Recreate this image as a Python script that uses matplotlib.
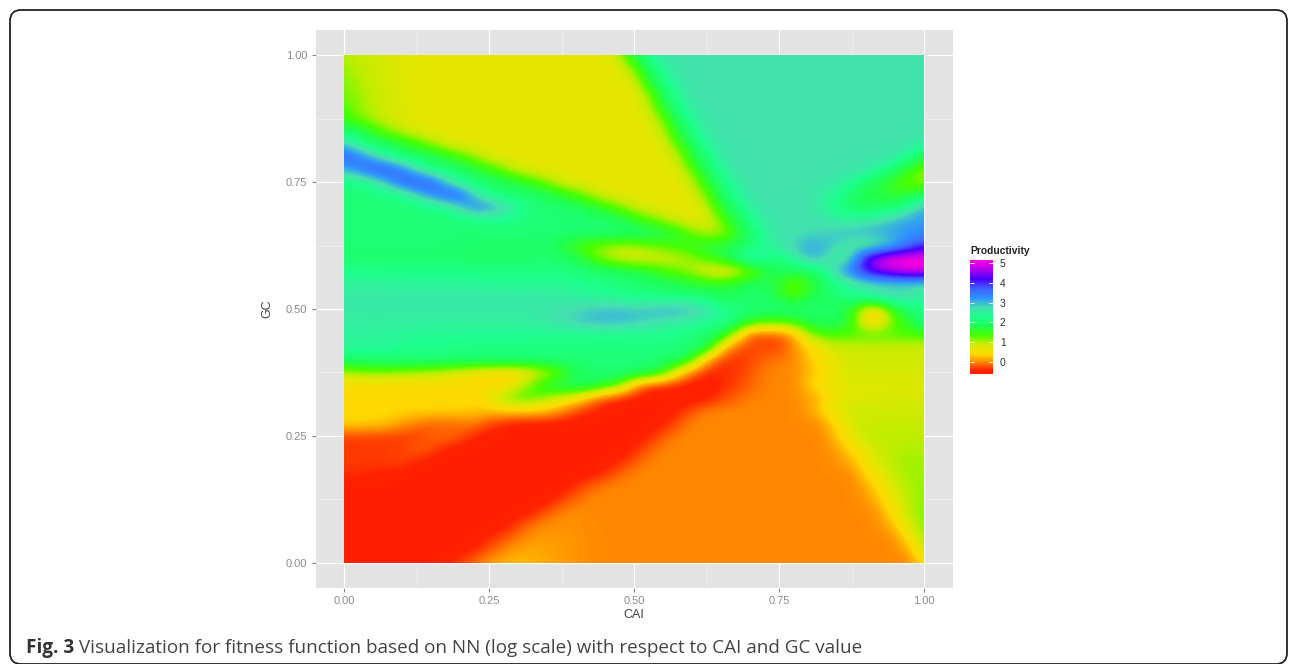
import matplotlib
matplotlib.use('Agg')
import matplotlib.pyplot as plt
import numpy as np
from matplotlib.colors import LinearSegmentedColormap, Normalize
from matplotlib.patches import FancyBboxPatch, Rectangle

W, H = 1295, 664

cai_ticks = [0.00, 0.25, 0.50, 0.75, 1.00]
gc_ticks = [0.00, 0.25, 0.50, 0.75, 1.00]
legend_ticks = [0, 1, 2, 3, 4, 5]
caption_bold = 'Fig. 3'
caption_rest = ' Visualization for fitness function based on NN (log scale) with respect to CAI and GC value'

# rows run from GC = 1.00 down to GC = 0.00, columns CAI 0.00 to 1.00, both in 0.025 steps
productivity = [
    [1.0, .92, .85, .78, .74, .72] + [.7] * 13 + [1.0, 1.8, 2.3] + [2.7] * 19,
    [1.05, .95, .87, .8, .75, .72] + [.7] * 13 + [.7, 1.2, 1.9, 2.4] + [2.7] * 18,
    [1.15, 1.0, .9, .8, .75, .72] + [.7] * 14 + [.8, 1.7, 2.2, 2.6] + [2.7] * 17,
    [1.2, 1.05, .92, .82, .76, .72] + [.7] * 14 + [.7, 1.1, 1.9, 2.4] + [2.7] * 17,
    [1.3, 1.1, .95, .82, .76, .72] + [.7] * 15 + [.9, 1.7, 2.2, 2.6] + [2.7] * 16,
    [1.5, 1.15, 1.0, .85, .78, .72] + [.7] * 15 + [.75, 1.2, 1.9, 2.4] + [2.7] * 16,
    [2.0, 1.9, 1.5, 1.15, .9, .75] + [.7] * 16 + [.95, 1.7, 2.2, 2.6] + [2.7] * 15,
    [2.9, 2.3, 2.0, 1.9, 1.7, 1.4, 1.1, .8, .72] + [.7] * 13 + [.75, 1.3, 1.9, 2.4] + [2.7] * 14 + [2.5],
    [3.7, 3.5, 2.9, 2.4, 2.05, 2.0, 1.9, 1.65, 1.35, 1.05, .78] + [.7] * 12 + [.9, 1.7, 2.1, 2.6] + [2.7] * 11 + [2.65, 2.3, 1.7],
    [3.0, 3.4, 3.8, 3.8, 3.4, 2.7, 2.2, 2.05, 1.95, 1.75, 1.45, 1.15, .85, .72] + [.7] * 9 + [.75, 1.3, 1.9, 2.4] + [2.7] * 9
    + [2.65, 2.4, 2.0, 1.5, 1.15],
    [2.2, 2.2, 2.5, 3.0, 3.7, 3.8, 3.7, 2.9, 2.3, 2.1, 2.0, 1.85, 1.65, 1.4, 1.1, .8, .72] + [.7] * 7 + [.9, 1.6, 2.1, 2.5]
    + [2.7] * 6 + [2.6, 2.4, 2.0, 1.7, 1.4, 1.2, 1.05],
    [2.1, 2.1, 2.15, 2.15, 2.3, 2.8, 3.3, 3.7, 3.7, 2.8, 2.2, 2.1, 2.05, 2.0, 1.85, 1.6, 1.35, 1.0, .76] + [.7] * 5
    + [.75, 1.2, 1.9, 2.3] + [2.7] * 4 + [2.7, 2.5, 2.3, 2.0, 1.75, 1.7, 1.6, 1.6, 1.9],
    [2.1] * 6 + [2.15, 2.3, 2.8, 3.4, 3.3, 2.9, 2.4, 2.15, 2.1, 2.05, 1.95, 1.75, 1.5, 1.2, .9, .72] + [.7] * 3
    + [.9, 1.6, 2.1, 2.5, 2.7] + [2.7] * 2 + [2.7, 2.5, 2.2, 2.0, 1.9, 1.95, 2.0, 2.5, 3.1],
    [2.1] * 10 + [2.2, 2.25, 2.2] + [2.1] * 4 + [2.05, 2.0, 1.85, 1.6, 1.3, 1.05, .8] + [.7, .75, 1.2, 1.8, 2.2, 2.6] + [2.7] * 3
    + [2.7, 2.55, 2.5, 2.6, 2.75, 3.0, 3.15, 3.2],
    [2.1] * 20 + [2.05, 2.0, 1.85, 1.6, 1.2, 1.0, .95, 1.5, 2.0, 2.4] + [2.7, 2.7, 2.75, 2.8, 2.9, 3.0, 3.05, 3.1, 3.15, 3.2, 3.2],
    [2.1] * 8 + [2.05] + [2.0] * 6 + [1.7, 1.4, 1.2, 1.1, 1.0, 1.05, 1.2, 1.3, 1.45, 1.6, 1.7, 1.75, 1.85, 2.0, 2.4, 2.6, 2.85,
                                       3.1, 3.05, 2.8, 2.6, 2.4, 2.6, 3.0, 3.5, 4.0],
    [2.1, 2.05] + [2.0] * 12 + [2.05, 2.0, 1.8, 1.4, 1.0, .8, .75, .75, .8, .9, 1.05, 1.4, 1.7, 2.1, 2.7, 2.4, 2.1, 2.5, 3.0,
                                 2.9, 2.4, 2.8, 4.3, 4.9, 5.15, 5.2, 5.2],
    [2.25] * 8 + [2.2] * 8 + [2.15, 2.1, 2.0, 1.9, 1.75, 1.6, 1.4, 1.2, 1.0, .65, .55, .65, 1.0, 1.6, 1.9, 1.9, 1.85, 2.2, 3.0,
                               3.5, 4.2, 4.6, 4.9, 5.05, 5.05],
    [2.5] * 4 + [2.45] * 6 + [2.35] * 6 + [2.3, 2.25, 2.2, 2.15, 2.1, 2.05, 1.9, 1.8, 1.7, 1.6, 1.55, 1.7, 1.9, 1.9, 1.6, 1.1,
                                            1.5, 1.9, 2.2, 2.5, 2.65, 2.7, 2.7, 2.75, 2.7],
    [2.6] * 16 + [2.5, 2.45, 2.4, 2.3, 2.2, 2.2, 2.15, 2.1, 2.1, 2.0, 1.9, 1.9, 2.0, 2.0, 1.7, 1.3, 1.7, 1.9, 2.1, 2.3, 2.5,
                  2.8, 2.9, 2.8, 2.4],
    [2.6] * 14 + [2.65, 2.7, 2.75, 2.85, 2.9, 2.95, 2.9, 2.95, 3.05, 3.05, 3.0, 2.7, 2.35, 2.2, 2.1, 2.1, 2.1, 2.1, 2.05, 2.0,
                  1.9, 1.6, .6, .6, 1.6, 2.0, 2.3],
    [2.55] * 14 + [2.65, 2.75, 2.9, 3.0, 3.05, 3.0, 2.95, 2.8, 2.7, 2.6, 2.5, 2.4, 2.3, 2.1, 1.6, 1.4, 1.4, 1.5, 1.8, 1.95,
                   1.9, 1.5, .45, .45, 1.3, 1.6, 2.3],
    [2.5, 2.5, 2.45, 2.45, 2.45] + [2.35] * 9 + [2.3] * 8 + [2.25, 2.2, 2.1, 2.0, 1.8, .9, -.2, -.25, -.2, .1, 1.0, 1.3]
    + [1.35] * 6 + [1.4],
    [2.45] * 4 + [2.3] * 4 + [2.2] * 16 + [2.1, 1.9, .5, -.2, -.25, -.25, -.3, 0, .35, .7] + [.85] * 7,
    [2.0] * 3 + [2.1] * 19 + [2.0, 1.9, 1.4, .2, -.3, -.35, -.3, -.15, -.05, 0, .25, .5, .75] + [.85] * 6,
    [1.0, 1.1, 1.15, 1.1, 1.05, 1.0, .95, .85, .7, .55, .45, .4, .42, .6, .9, 1.3, 1.8, 2.0, 2.1, 2.1, 2.05, 1.9, 1.5, .6, -.1,
     -.4, -.4, -.35, -.2, -.05, 0, 0, .2, .4, .7] + [.8] * 6,
    [.42] * 12 + [.8, 1.3, 1.7, 1.9, 2.0, 1.95, 1.6, 1.2, .2, -.3, -.4, -.45, -.5, -.5, -.4, -.3, -.15, -.05, 0, 0, .3, .55, .7]
    + [.75] * 6,
    [.4] * 10 + [.65, 1.1, 1.35, 1.3, 1.05, .8, .55, .1, -.25, -.4, -.48] + [-.5] * 5
    + [-.3, -.15, -.05, 0, 0, 0, .1, .25, .65, .75, .75, .78, .8, .8, .8],
    [.4] * 8 + [.38, .32, .28, .33, .35, .35, .25, 0, -.25, -.4, -.48] + [-.5] * 4 + [-.42, -.25, -.05] + [0] * 6
    + [.1, .4, .75] + [.85] * 6,
    [.4, .4, .35, .3, .1, -.05, -.15, -.2, -.1, -.05, -.25, -.4, -.48] + [-.5] * 9 + [-.45, -.25] + [0] * 9
    + [.05, .45, .8, .88] + [.9] * 4,
    [-.3] * 6 + [-.2, -.05, -.2, -.4] + [-.5] * 11 + [-.42, -.2, -.03] + [0] * 10 + [.3, .7, .9] + [.95] * 4,
    [-.32] * 5 + [-.15, -.2, -.45] + [-.5] * 12 + [-.42, -.2, -.03] + [0] * 11 + [.1, .4, .75, .9, .95, 1.0, 1.0],
    [-.32] * 3 + [-.3, -.25, -.4] + [-.5] * 13 + [-.42, -.2, -.03] + [0] * 12 + [.05, .2, .55, .85, 1.0, 1.05, 1.05],
    [-.35, -.38, -.4, -.45] + [-.5] * 14 + [-.35, -.15, -.03] + [0] * 15 + [.35, .7, .95, 1.05, 1.05],
    [-.5] * 16 + [-.35, -.15, -.03] + [0] * 17 + [.15, .45, .85, 1.0, 1.1],
    [-.5] * 15 + [-.32, -.12] + [0] * 19 + [.05, .3, .7, 1.0, 1.1],
    [-.5] * 13 + [-.42, -.2, -.02, .03] + [0] * 20 + [.1, .55, .95, 1.15],
    [-.5] * 12 + [-.3, -.1, .03, .05, .03] + [0] * 20 + [.03, .3, .8, 1.15],
    [-.5] * 10 + [-.4, -.25, -.05, .07, .1, .08, .05, .02] + [0] * 20 + [.05, .5, 1.1],
    [-.5] * 9 + [-.4, -.2, 0, .12, .15, .12, .08, .05, .02] + [0] * 21 + [.15, .9],
    [-.5] * 7 + [-.45, -.3, -.1, .1, .2, .25, .22, .15, .1, .05, .02] + [0] * 21 + [0, .4],
]

# colour scale
scale_values = [-0.58, -0.42, 0.0, 0.375, 0.7, 0.95, 1.33, 1.8, 2.29, 2.75, 3.24, 3.7, 4.2, 4.7, 5.15]
scale_colors = ['#ff1e00', '#ff2200', '#ff8a00', '#ffd800', '#e6e600', '#bfee00', '#49ff00', '#20ff50',
                '#1cff8c', '#45e0b0', '#2f92ff', '#3f60ff', '#4900ff', '#b400ee', '#ff00db']

plt.rcParams['font.family'] = ['Liberation Sans', 'DejaVu Sans']


def px_axes(fig, left, top, right, bottom):
    # axes from pixel box, y counted from the top of the picture
    return fig.add_axes([left / W, 1 - bottom / H, (right - left) / W, (bottom - top) / H])


fig = plt.figure(figsize=(W / 100, H / 100), dpi=100, facecolor='white')

# rounded frame of the figure box
back = fig.add_axes([0, 0, 1, 1])
back.set_xlim(0, W)
back.set_ylim(H, 0)
back.axis('off')
back.add_patch(FancyBboxPatch((10, 10), 1277, 654, boxstyle='round,pad=0,rounding_size=11',
                              fill=False, ec='#222222', lw=1.3, mutation_aspect=1))

ax = px_axes(fig, 315.5, 30, 953, 588)
ax.set_facecolor('#e3e3e3')
for s in ax.spines.values():
    s.set_visible(False)

ax.set_axisbelow(True)
ax.set_xticks(cai_ticks)
ax.set_yticks(gc_ticks)
ax.set_xticks([0.125, 0.375, 0.625, 0.875], minor=True)
ax.set_yticks([0.125, 0.375, 0.625, 0.875], minor=True)
ax.grid(True, which='major', color='white', lw=0.9)
ax.grid(True, which='minor', color='#f0f0f0', lw=0.5)
ax.tick_params(which='minor', length=0)
ax.tick_params(which='major', length=3, width=0.8, color='#8a8a8a', labelcolor='#8c8c8c',
               labelsize=8, pad=3)
ax.xaxis.set_major_formatter('{x:.2f}')
ax.yaxis.set_major_formatter('{x:.2f}')
ax.set_xlabel('CAI', fontsize=9, color='#444444', labelpad=2)
ax.set_ylabel('GC', fontsize=9, color='#444444', labelpad=9)

values = np.array(productivity)
nodes = (np.array(scale_values) - scale_values[0]) / (scale_values[-1] - scale_values[0])
cmap = LinearSegmentedColormap.from_list('productivity', list(zip(nodes, scale_colors)), N=512)
norm = Normalize(scale_values[0], scale_values[-1])
im = ax.imshow(values, cmap=cmap, norm=norm, aspect='auto', interpolation='bicubic',
               extent=(-0.0125, 1.0125, -0.0125, 1.0125), zorder=2)
im.set_clip_path(Rectangle((0, 0), 1, 1, transform=ax.transData))
ax.set_xlim(-0.05, 1.05)
ax.set_ylim(-0.05, 1.05)

# legend bar
cax = px_axes(fig, 970, 260, 993, 373.5)
cb = fig.colorbar(im, cax=cax, ticks=legend_ticks)
cb.outline.set_visible(False)
cax.tick_params(direction='in', left=True, right=True, length=3, width=0.7, color='white',
                labelsize=7.4, labelcolor='#333333', pad=5)
fig.text(970 / W, 1 - 251 / H, 'Productivity', fontsize=7.4, fontweight='bold', color='#222222',
         ha='left', va='center')

# caption, bold part first and the rest placed after it
cap_font = ['Open Sans', 'DejaVu Sans']
t1 = fig.text(26 / W, 1 - 648 / H, caption_bold, fontsize=13.55, fontweight='bold', color='#333333',
              family=cap_font, va='center', ha='left')
fig.canvas.draw()
x_end = t1.get_window_extent().x1
fig.text(x_end / W, 1 - 648 / H, caption_rest, fontsize=13.55, color='#444444',
         family=cap_font, va='center', ha='left')

fig.savefig('out.png', dpi=100)
